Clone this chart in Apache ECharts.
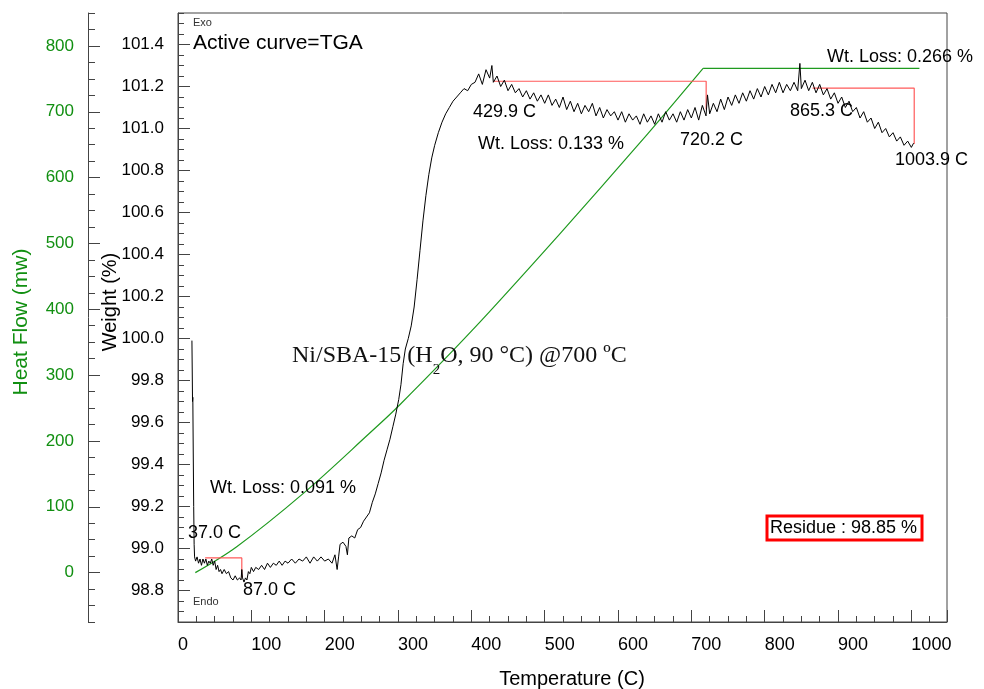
<!DOCTYPE html>
<html><head><meta charset="utf-8">
<script src="https://cdn.jsdelivr.net/npm/echarts@6/dist/echarts.min.js"></script>
<style>html,body{margin:0;padding:0;background:#fff}#c{width:984px;height:689px}</style>
</head><body><div id="c"></div>
<script>
// TGA (weight %) curve
const tgaTemp = [19,19.4,19.8,20.2,20.8,21.4,22,22.6,24,26,28,30,32,34,36,38,40,42,44,46,48,50,52,54,56,58,60,63,66,69,72,75,78,81,84,86,87,88,90,92,94,96,98,100,103,106,110,114,118,122,126,130,134,138,142,146,150,155,160,165,170,175,180,185,190,195,200,205,210,214,217,219,221,225,229,231,233,237,241,245,249,253,257,261,265,269,273,277,281,285,289,293,297,301,304,307,310,314,318,322,326,330,334,338,342,346,350,355,360,365,370,375,380,385,390,395,400,
405,410,415,420,425,428,430,435,440,445,450,455,460,465,470,475,480,485,490,495,500,505,510,515,520,525,530,535,540,545,550,555,560,565,570,575,580,585,590,595,600,605,610,615,620,625,630,635,640,645,650,655,660,665,670,675,680,685,690,695,700,705,710,715,720,722,725,730,735,740,745,750,755,760,765,770,775,780,785,790,795,800,805,810,815,820,825,830,835,840,845,848,850,855,860,865,870,875,880,885,890,895,900,905,910,915,920,925,930,935,940,945,950,955,960,965,970,975,980,985,990,995,1000,1003];
const tgaWeight = [99.99,99.85,99.70,99.72,99.45,99.20,99.02,98.96,98.94,98.96,98.93,98.95,98.92,98.95,98.93,98.95,98.92,98.94,98.93,98.95,98.92,98.94,98.90,98.92,98.89,98.90,98.88,98.90,98.88,98.89,98.86,98.85,98.87,98.85,98.86,98.85,98.90,98.86,98.84,98.86,98.85,98.89,98.88,98.91,98.89,98.91,98.90,98.92,98.90,98.93,98.91,98.93,98.92,98.94,98.92,98.94,98.93,98.95,98.93,98.95,98.94,98.96,98.93,98.96,98.94,98.96,98.94,98.95,98.93,98.97,98.90,98.96,99.02,99.03,99.01,98.97,99.05,99.06,99.05,99.09,99.10,99.13,99.15,99.17,99.22,99.26,99.31,99.36,99.42,99.47,99.52,99.58,99.64,99.71,99.78,99.88,99.95,100.00,100.06,100.15,100.28,100.42,100.56,100.68,100.78,100.86,100.92,100.98,101.03,101.07,101.10,101.13,101.15,101.17,101.19,101.18,101.21,
101.22,101.26,101.21,101.28,101.24,101.30,101.22,101.25,101.20,101.23,101.18,101.21,101.17,101.19,101.15,101.18,101.14,101.17,101.13,101.16,101.12,101.16,101.11,101.14,101.10,101.15,101.09,101.13,101.08,101.12,101.07,101.11,101.08,101.12,101.06,101.10,101.05,101.09,101.06,101.08,101.04,101.08,101.03,101.07,101.04,101.06,101.02,101.07,101.03,101.06,101.02,101.07,101.03,101.08,101.04,101.07,101.03,101.08,101.04,101.09,101.05,101.10,101.04,101.11,101.06,101.16,101.07,101.12,101.08,101.14,101.09,101.15,101.11,101.16,101.12,101.17,101.13,101.18,101.14,101.19,101.15,101.20,101.16,101.21,101.17,101.22,101.17,101.21,101.18,101.22,101.18,101.31,101.19,101.23,101.18,101.22,101.17,101.21,101.16,101.19,101.14,101.17,101.12,101.15,101.10,101.13,101.08,101.10,101.05,101.08,101.03,101.05,101.00,101.03,100.98,101.00,100.96,100.98,100.94,100.96,100.92,100.94,100.91,100.93];

// Heat flow (mW) curve: rising part and plateau
const hfTemp  = [23.6, 79.6, 170.5, 261.5, 302.5, 402, 521, 630, 716];
const hfValue = [0, 39, 120, 212, 255, 369, 515, 653, 766];
const hfFlatTemp  = [716, 1011];
const hfFlatValue = [766, 766];

// Weight-loss step markers (temperature, weight %)
const stepTemps   = [[37.0, 87.0, 87.0], [429.9, 720.2, 720.2], [865.3, 1003.9, 1003.9]];
const stepWeights = [[98.955, 98.955, 98.863], [101.225, 101.225, 101.092], [101.192, 101.192, 100.926]];

// Axis tick labels
const weightTicks = [98.8, 99.0, 99.2, 99.4, 99.6, 99.8, 100.0, 100.2, 100.4, 100.6, 100.8, 101.0, 101.2, 101.4];
const heatTicks = [0, 100, 200, 300, 400, 500, 600, 700, 800];

const weightMinor = [];
for (let i = 0; i <= 58; i++) weightMinor.push(+(98.65 + i * 0.05).toFixed(2));
const heatMinor = [];
for (let v = -75; v <= 850; v += 25) heatMinor.push(v);

const zip = (a, b) => a.map((x, i) => [x, b[i]]);
const SANS = "'Liberation Sans', Arial, sans-serif";
const GREEN = '#118f11';

const chart = echarts.init(document.getElementById('c'), null, {renderer: 'canvas'});

const yBase = (extra) => Object.assign({
  type: 'value', position: 'left', splitLine: {show: false}, scale: false
}, extra);

const stepSeries = stepTemps.map((ts, k) => ({
  type: 'line', xAxisIndex: 0, yAxisIndex: 0, symbol: 'none', silent: true,
  lineStyle: {color: '#ff5a5a', width: 1.2}, data: zip(ts, stepWeights[k]), z: 3
}));

// measure title pieces
const ctx = document.createElement('canvas').getContext('2d');
const SERIF = "'Liberation Serif', 'Times New Roman', serif";
ctx.font = "24px " + SERIF;
const t1 = 'Ni/SBA-15 (H', t3 = 'O, 90 °C) @700 ºC';
const w1 = ctx.measureText(t1).width;
ctx.font = "15px " + SERIF;
const w2 = ctx.measureText('2').width;
const titleX = 292, titleY = 356;

const txt = (text, x, y, size, extra) => ({
  type: 'text', x: x, y: y, silent: true, z: 100,
  style: Object.assign({text: text, font: size + 'px ' + SANS, fill: '#000', align: 'left', verticalAlign: 'middle'}, extra || {})
});

chart.setOption({
  animation: false,
  backgroundColor: '#fff',
  grid: {left: 178, top: 13, width: 769, height: 609, show: true, borderColor: '#444', borderWidth: 1, backgroundColor: 'transparent'},
  xAxis: [{
    type: 'value', min: 0, max: 1048.6, interval: 100, position: 'bottom',
    axisLine: {show: true, onZero: false, lineStyle: {color: '#444'}},
    axisTick: {show: true, inside: true, length: 12, lineStyle: {color: '#444'}},
    minorTick: {show: true, splitNumber: 4, length: 6, lineStyle: {color: '#444'}},
    splitLine: {show: false},
    axisLabel: {align: 'left', margin: 14, fontSize: 18, color: '#000', fontFamily: SANS, showMaxLabel: false,
      formatter: v => (v <= 1000 ? String(v) : '')}
  }],
  yAxis: [
    yBase({min: 98.65, max: 101.55, offset: 0,
      axisLine: {show: true, onZero: false, lineStyle: {color: '#444'}},
      axisTick: {show: true, inside: true, length: 12, customValues: weightTicks, lineStyle: {color: '#444'}},
      axisLabel: {customValues: weightTicks, margin: 14, fontSize: 17, color: '#000', fontFamily: SANS, formatter: v => v.toFixed(1)}}),
    yBase({min: 98.65, max: 101.55, offset: 0,
      axisLine: {show: false, onZero: false},
      axisTick: {show: true, inside: true, length: 6, customValues: weightMinor, lineStyle: {color: '#444'}},
      axisLabel: {show: false}}),
    yBase({min: -75, max: 850, offset: 90,
      axisLine: {show: true, onZero: false, lineStyle: {color: '#444'}},
      axisTick: {show: true, inside: true, length: 12, customValues: heatTicks, lineStyle: {color: '#444'}},
      axisLabel: {customValues: heatTicks, margin: 14, fontSize: 17, color: GREEN, fontFamily: SANS}}),
    yBase({min: -75, max: 850, offset: 90,
      axisLine: {show: false, onZero: false},
      axisTick: {show: true, inside: true, length: 7, customValues: heatMinor, lineStyle: {color: '#444'}},
      axisLabel: {show: false}})
  ],
  series: [
    {type: 'line', name: 'Heat Flow', xAxisIndex: 0, yAxisIndex: 2, symbol: 'none', smooth: 0.35, silent: true,
      lineStyle: {color: '#1f9a1f', width: 1.2}, data: zip(hfTemp, hfValue), z: 2},
    {type: 'line', name: 'Heat Flow plateau', xAxisIndex: 0, yAxisIndex: 2, symbol: 'none', silent: true,
      lineStyle: {color: '#1f9a1f', width: 1.2}, data: zip(hfFlatTemp, hfFlatValue), z: 2},
    {type: 'line', name: 'TGA', xAxisIndex: 0, yAxisIndex: 0, symbol: 'none', silent: true,
      lineStyle: {color: '#000', width: 1}, data: zip(tgaTemp, tgaWeight), z: 4}
  ].concat(stepSeries),
  graphic: [
    txt('Exo', 193, 23, 11, {fill: '#333'}),
    txt('Endo', 193, 602, 11, {fill: '#333'}),
    txt('Active curve=TGA', 193, 43, 21),
    txt('37.0 C', 188, 533, 18),
    txt('87.0 C', 243, 590, 18),
    txt('Wt. Loss: 0.091 %', 210, 488, 18),
    txt('429.9 C', 473, 112, 18),
    txt('Wt. Loss: 0.133 %', 478, 144, 18),
    txt('720.2 C', 680, 140, 18),
    txt('865.3 C', 790, 111, 18),
    txt('1003.9 C', 895, 160, 18),
    txt('Wt. Loss: 0.266 %', 827, 57, 18),
    {type: 'rect', silent: true, z: 100, shape: {x: 767, y: 516, width: 155, height: 24},
      style: {fill: '#fff', stroke: '#ff0000', lineWidth: 3}},
    txt('Residue : 98.85 %', 770, 528, 18),
    {type: 'text', silent: true, z: 100, x: titleX, y: titleY, style: {text: t1, font: '24px ' + SERIF, fill: '#111', align: 'left', verticalAlign: 'middle'}},
    {type: 'text', silent: true, z: 100, x: titleX + w1, y: titleY + 14, style: {text: '2', font: '15px ' + SERIF, fill: '#111', align: 'left', verticalAlign: 'middle'}},
    {type: 'text', silent: true, z: 100, x: titleX + w1 + w2, y: titleY, style: {text: t3, font: '24px ' + SERIF, fill: '#111', align: 'left', verticalAlign: 'middle'}},
    {type: 'text', silent: true, z: 100, x: 21, y: 322, rotation: Math.PI / 2,
      style: {text: 'Heat Flow (mw)', font: '21px ' + SANS, fill: GREEN, align: 'center', verticalAlign: 'middle'}},
    {type: 'text', silent: true, z: 100, x: 110, y: 302, rotation: Math.PI / 2,
      style: {text: 'Weight (%)', font: '20px ' + SANS, fill: '#000', align: 'center', verticalAlign: 'middle'}},
    txt('Temperature (C)', 572, 679, 20, {align: 'center'})
  ]
});
</script></body></html>
